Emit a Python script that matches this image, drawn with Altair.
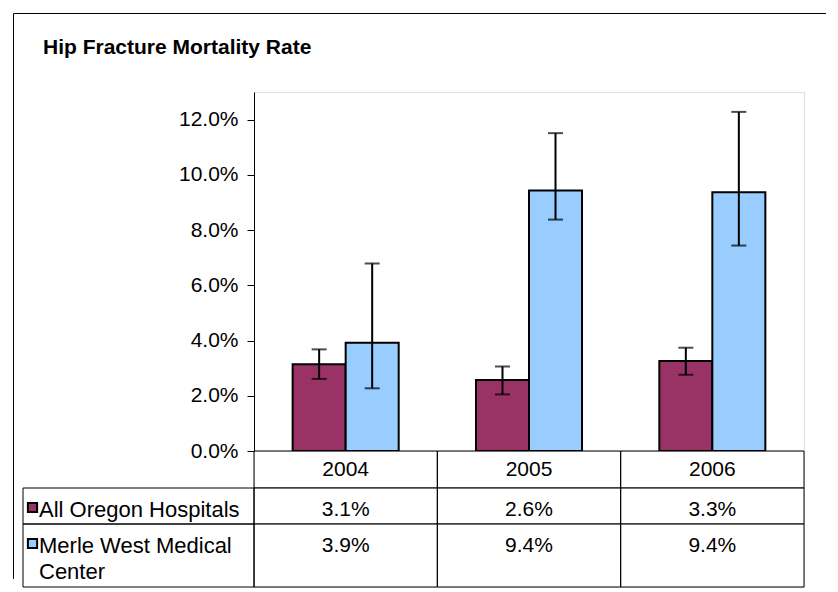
import altair as alt
import pandas as pd

# ---------------- data ----------------
title_text = "Hip Fracture Mortality Rate"
years = ["2004", "2005", "2006"]
series = ["All Oregon Hospitals", "Merle West Medical Center"]
series_table_labels = ["All Oregon Hospitals", "Merle West Medical\nCenter"]
oregon = [0.0314, 0.0257, 0.0326]
merle = [0.0392, 0.0943, 0.0937]
oregon_lo = [0.0261, 0.0205, 0.0276]
oregon_hi = [0.0368, 0.0306, 0.0374]
merle_lo = [0.0227, 0.0838, 0.0744]
merle_hi = [0.0679, 0.1151, 0.1228]
oregon_table = ["3.1%", "2.6%", "3.3%"]
merle_table = ["3.9%", "9.4%", "9.4%"]
y_ticks = [0.0, 0.02, 0.04, 0.06, 0.08, 0.10, 0.12]
colors = ["#993366", "#99CCFF"]

# ---------------- layout / style ----------------
FONT = "Liberation Sans"
FS = 21
FS_LABEL = 22
PLOT_W = 550
PLOT_H = 359
HEADER_H = 37
ROW_H = [36, 63]
LABEL_W = 231
HALF_LABEL = LABEL_W / 2

rows = []
for i, y in enumerate(years):
    rows.append(dict(year=y, series=series[0], value=oregon[i], lo=oregon_lo[i],
                     hi=oregon_hi[i], table_text=oregon_table[i]))
    rows.append(dict(year=y, series=series[1], value=merle[i], lo=merle_lo[i],
                     hi=merle_hi[i], table_text=merle_table[i]))
df = pd.DataFrame(rows)

color_scale = alt.Scale(domain=series, range=colors)
x_year = alt.X("year:N", sort=years, axis=None,
               scale=alt.Scale(domain=years, paddingInner=0, paddingOuter=0))
x_off = alt.XOffset("series:N", sort=series,
                    scale=alt.Scale(domain=series, paddingInner=0, paddingOuter=0.729))
y_scale = alt.Scale(domain=[0, 0.13], nice=False, zero=True)
y_axis = alt.Axis(values=y_ticks, format=".1%", title=None, grid=False,
                  labelFont=FONT, labelFontSize=FS, labelColor="black",
                  tickColor="black", tickSize=7, tickWidth=1, labelPadding=9,
                  domainColor="black", domainWidth=1)

bars = alt.Chart(df).mark_bar(stroke="black", strokeWidth=2).encode(
    x=x_year, xOffset=x_off,
    y=alt.Y("value:Q", scale=y_scale, axis=y_axis),
    color=alt.Color("series:N", scale=color_scale, legend=None),
)
err = alt.Chart(df).mark_rule(color="black", strokeWidth=2).encode(
    x=x_year, xOffset=x_off,
    y=alt.Y("lo:Q", scale=y_scale, axis=y_axis), y2="hi:Q",
)
cap_lo = alt.Chart(df).mark_tick(color="black", thickness=2, size=15).encode(
    x=x_year, xOffset=x_off, y=alt.Y("lo:Q", scale=y_scale, axis=y_axis),
)
cap_hi = alt.Chart(df).mark_tick(color="black", thickness=2, size=15).encode(
    x=x_year, xOffset=x_off, y=alt.Y("hi:Q", scale=y_scale, axis=y_axis),
)
bar_chart = alt.layer(bars, err, cap_lo, cap_hi).properties(
    width=PLOT_W, height=PLOT_H,
    title=alt.TitleParams(title_text, anchor="start", frame="group", font=FONT,
                          fontSize=FS, fontWeight="bold", color="black",
                          dx=-211, offset=17, baseline="alphabetic"),
)

# header row of the data table
hdr = pd.DataFrame({"year": years})
header_cells = alt.Chart(hdr).mark_rect(fillOpacity=0, stroke="black", strokeWidth=1).encode(x=x_year)
header_text = alt.Chart(hdr).mark_text(font=FONT, fontSize=FS, color="black",
                                       baseline="middle").encode(x=x_year, text="year:N")
header = alt.layer(header_cells, header_text).properties(width=PLOT_W, height=HEADER_H)


def row_chart(i, h, frame=False):
    d = df[df["series"] == series[i]]
    lab_df = pd.DataFrame({"series": [series[i]], "label": [series_table_labels[i]]})
    y_row = alt.Y("series:N", axis=None, scale=alt.Scale(paddingInner=0, paddingOuter=0))
    y_top = alt.Y("series:N", axis=None, bandPosition=0,
                  scale=alt.Scale(paddingInner=0, paddingOuter=0))
    lab_scale = alt.Scale(range=[-LABEL_W, 0], paddingInner=0, paddingOuter=0)
    x_lab = alt.X("series:N", axis=None, scale=lab_scale)

    cells = alt.Chart(d).mark_rect(fillOpacity=0, stroke="black", strokeWidth=1).encode(
        x=x_year, y=y_row)
    vals = alt.Chart(d).mark_text(font=FONT, fontSize=FS, color="black",
                                  baseline="alphabetic", dy=27.5).encode(
        x=x_year, y=y_top, text="table_text:N")
    lab_cell = alt.Chart(lab_df).mark_rect(fillOpacity=0, stroke="black", strokeWidth=1).encode(
        x=x_lab, y=y_row)
    key = alt.Chart(lab_df).mark_square(size=85, stroke="black", strokeWidth=2, opacity=1,
                                        xOffset=9.5 - HALF_LABEL, yOffset=19.5).encode(
        x=x_lab, y=y_top,
        color=alt.Color("series:N", scale=color_scale, legend=None))
    lab_text = alt.Chart(lab_df).mark_text(font=FONT, fontSize=FS_LABEL, color="black",
                                           align="left", baseline="alphabetic",
                                           dx=16 - HALF_LABEL, dy=28.5,
                                           lineBreak="\n", lineHeight=26).encode(
        x=x_lab, y=y_top, text="label:N")
    layers = [cells, vals, lab_cell, key, lab_text]
    if frame:
        dummy = pd.DataFrame({"k": [0]})
        top_line = alt.Chart(dummy).mark_rule(color="black", strokeWidth=1).encode(
            x=alt.value(-240.5), x2=alt.value(572), y=alt.value(-510.5))
        left_line = alt.Chart(dummy).mark_rule(color="black", strokeWidth=1).encode(
            x=alt.value(-240.5), y=alt.value(-510.5), y2=alt.value(55))
        layers += [top_line, left_line]
    return alt.layer(*layers).resolve_scale(x="independent").properties(width=PLOT_W, height=h)


row1 = row_chart(0, ROW_H[0])
row2 = row_chart(1, ROW_H[1], frame=True)

chart = alt.vconcat(bar_chart, header, row1, row2, spacing=0, bounds="flush").properties(
    padding={"left": 4, "top": 4, "right": 0, "bottom": 0},
    background="white",
).configure_view(stroke="black", strokeWidth=1).configure(font=FONT)

chart.save("out.html", embed_options={"renderer": "svg", "actions": False})
